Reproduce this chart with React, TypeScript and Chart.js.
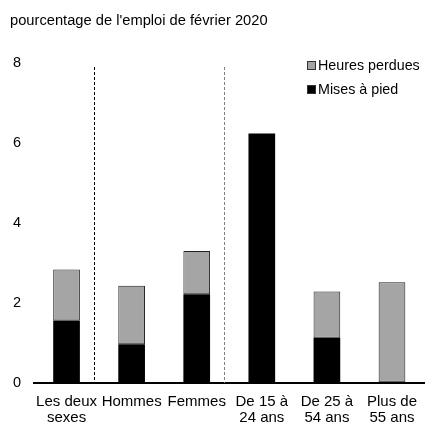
import React, { useEffect, useRef } from "react";
import { Chart, registerables } from "chart.js";

Chart.register(...registerables);

const titleText = "pourcentage de l'emploi de février 2020";
const categories: (string | string[])[] = [
  ["Les deux", "sexes"],
  "Hommes",
  "Femmes",
  ["De 15 à", "24 ans"],
  ["De 25 à", "54 ans"],
  ["Plus de", "55 ans"],
];
const misesAPied = [1.56, 0.97, 2.22, 6.24, 1.13, 0.03];
const heuresPerdues = [1.28, 1.46, 1.08, 0, 1.16, 2.49];
const dividerPositions = [0.42, 2.42];
const dividerColors = ["#000000", "#7f7f7f"];
const dividerTop = 7.9;
const yTicks = [0, 2, 4, 6, 8];

const FONT = "'Liberation Sans', Arial, sans-serif";
const GRAY = "#a5a5a5";

const overlayPlugin = {
  id: "overlay",
  afterDatasetsDraw(chart: any) {
    const ctx = chart.ctx;
    const x = chart.scales.x;
    const y = chart.scales.y;
    ctx.save();
    // dashed dividers
    ctx.lineWidth = 1;
    ctx.setLineDash([3, 2]);
    dividerPositions.forEach((p, i) => {
      const px = Math.round(x.getPixelForValue(p)) + 0.5;
      ctx.strokeStyle = dividerColors[i];
      ctx.beginPath();
      ctx.moveTo(px, y.getPixelForValue(dividerTop));
      ctx.lineTo(px, y.getPixelForValue(0));
      ctx.stroke();
    });
    ctx.setLineDash([]);
    // title
    ctx.fillStyle = "#000";
    ctx.font = "14.7px " + FONT;
    ctx.textAlign = "left";
    ctx.textBaseline = "middle";
    ctx.fillText(titleText, 10, 21);
    // legend (Heures perdues first, then Mises à pied)
    ctx.font = "14.3px " + FONT;
    const items = [chart.data.datasets[1], chart.data.datasets[0]];
    items.forEach((ds: any, i: number) => {
      const cy = 66 + i * 24;
      ctx.fillStyle = ds.backgroundColor;
      ctx.fillRect(307.5, cy - 4.5, 8, 8);
      ctx.strokeStyle = "#333";
      ctx.lineWidth = 1;
      ctx.strokeRect(307.5, cy - 4.5, 8, 8);
      ctx.fillStyle = "#000";
      ctx.fillText(ds.label, 318, cy);
    });
    ctx.restore();
  },
};

export default function App() {
  const ref = useRef<HTMLCanvasElement | null>(null);
  useEffect(() => {
    document.body.style.margin = "0";
    const chart = new Chart(ref.current as HTMLCanvasElement, {
      type: "bar",
      data: {
        labels: categories,
        datasets: [
          {
            label: "Mises à pied",
            data: misesAPied,
            backgroundColor: "#000000",
            borderColor: "#000000",
            borderWidth: 0,
            categoryPercentage: 1,
            barPercentage: 0.41,
          },
          {
            label: "Heures perdues",
            data: heuresPerdues,
            backgroundColor: GRAY,
            borderColor: "#222222",
            borderWidth: 1,
            borderSkipped: false,
            categoryPercentage: 1,
            barPercentage: 0.41,
          },
        ],
      },
      options: {
        animation: false,
        responsive: false,
        layout: { padding: { top: 63, left: 0, right: -2, bottom: 0 } },
        plugins: {
          legend: { display: false },
          title: { display: false },
          tooltip: { enabled: false },
        },
        scales: {
          x: {
            stacked: true,
            offset: true,
            grid: { display: false, drawTicks: false },
            border: { display: true, color: "#000", width: 2 },
            ticks: {
              color: "#000",
              padding: 11,
              maxRotation: 0,
              autoSkip: false,
              font: { family: FONT, size: 15, lineHeight: "16px" },
            },
            afterFit: (s: any) => {
              s.height = 39;
            },
          },
          y: {
            stacked: true,
            min: 0,
            max: 8,
            grid: { display: false, drawTicks: false },
            border: { display: false },
            afterBuildTicks: (s: any) => {
              s.ticks = yTicks.map((v) => ({ value: v }));
            },
            ticks: {
              color: "#000",
              padding: 13,
              font: { family: FONT, size: 14.5 },
            },
            afterFit: (s: any) => {
              s.width = 34;
            },
          },
        },
      },
      plugins: [overlayPlugin],
    });
    return () => chart.destroy();
  }, []);
  return (
    <div style={{ width: 428, height: 422 }}>
      <canvas ref={ref} width={428} height={422} style={{ display: "block" }} />
    </div>
  );
}
